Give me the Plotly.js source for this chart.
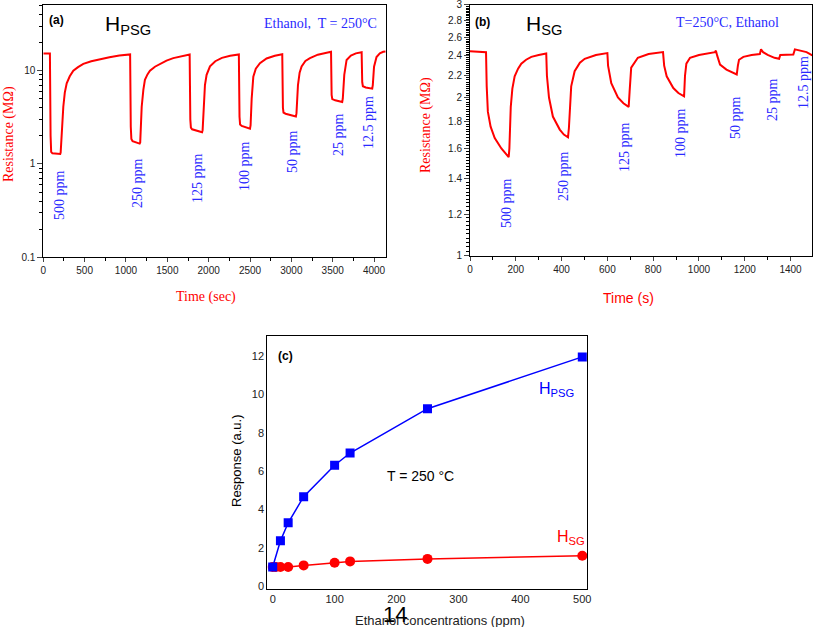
<!DOCTYPE html>
<html>
<head>
<meta charset="utf-8">
<script src="https://cdn.plot.ly/plotly-3.0.1.min.js"></script>
<style>html,body{margin:0;padding:0;background:#fff;}#chart{width:813px;height:627px;}</style>
</head>
<body>
<div id="chart"></div>
<script>
// ---------- Panel (a): H_PSG resistance vs time ----------
const timeA = [0,80,88,95,110,150,205,210,225,242,260,283,320,363,420,484,580,686,800,920,1048,
  1050,1058,1065,1080,1120,1165,1172,1190,1210,1229,1260,1290,1350,1411,1490,1572,1670,1766,
  1770,1778,1785,1800,1860,1920,1927,1940,1955,1975,2016,2080,2160,2260,2360,
  2365,2373,2380,2400,2450,2500,2507,2520,2540,2570,2620,2700,2800,2885,
  2890,2898,2905,2930,3000,3055,3062,3080,3100,3124,3170,3225,3320,3400,3475,
  3480,3487,3495,3530,3580,3615,3622,3640,3668,3720,3780,3845,
  3850,3857,3865,3900,3950,3978,3985,4000,4030,4070,4111,4141];
const resA = [15.2,15.2,2.0,1.35,1.30,1.29,1.28,1.32,2.5,4.1,5.8,7.3,8.7,9.95,10.9,11.8,12.6,13.3,13.9,14.5,14.9,
  14.9,2.5,1.85,1.75,1.70,1.65,1.70,4.1,6.2,7.95,9.1,9.95,11.0,11.8,12.8,13.6,14.3,14.9,
  14.9,3.0,2.45,2.35,2.25,2.18,2.30,4.5,7.0,9.0,11.1,12.6,13.7,14.4,14.9,
  14.9,3.2,2.65,2.55,2.45,2.39,2.6,5.0,8.6,10.5,12.0,13.5,14.4,14.9,
  15.0,4.0,3.55,3.45,3.32,3.23,3.5,7.0,9.5,11.1,12.7,13.6,14.8,15.4,15.9,
  15.9,5.5,4.95,4.8,4.7,4.6,5.0,9.0,13.0,14.5,15.3,15.7,
  15.7,7.5,6.8,6.6,6.45,6.4,7.0,11.0,14.0,15.3,15.9,16.0];
const ppmLabelsA = ["500 ppm","250 ppm","125 ppm","100 ppm","50 ppm","25 ppm","12.5 ppm"];

// ---------- Panel (b): H_SG resistance vs time ----------
const timeB = [0,40,70,73,78,90,108,137,155,169,172,178,185,195,210,224,245,268,300,333,
  336,345,362,392,410,428,432,437,442,457,480,501,550,600,
  603,617,646,670,693,697,704,733,780,843,
  848,859,888,910,935,939,945,961,1000,1070,1074,
  1080,1092,1120,1145,1165,1170,1175,1194,1230,1266,1271,1280,1300,1330,1350,1355,1380,1412,1419,1440,1470,1495];
const resB = [2.45,2.445,2.44,2.1,1.88,1.76,1.675,1.60,1.565,1.54,1.6,1.92,2.08,2.195,2.27,2.32,2.36,2.39,2.41,2.425,
  2.2,2.0,1.84,1.738,1.70,1.68,1.75,2.0,2.10,2.244,2.33,2.37,2.41,2.43,
  2.3,2.13,2.0,1.95,1.92,2.05,2.28,2.38,2.42,2.44,
  2.3,2.195,2.085,2.04,2.01,2.2,2.32,2.38,2.41,2.44,2.456,
  2.40,2.31,2.26,2.235,2.212,2.3,2.36,2.39,2.41,2.42,2.47,2.44,2.41,2.38,2.37,2.41,2.415,2.415,2.47,2.455,2.44,2.405];
const ppmLabelsB = ["500 ppm","250 ppm","125 ppm","100 ppm","50 ppm","25 ppm","12.5 ppm"];

// ---------- Panel (c): response vs concentration ----------
const concPSG = [0,12.5,25,50,100,125,250,500];
const respPSG = [1.0,2.36,3.30,4.66,6.30,6.94,9.25,11.95];
const concSG = [0,5,12.5,25,50,100,125,250,500];
const respSG = [1.0,1.0,1.0,1.0,1.08,1.22,1.29,1.42,1.58];

// tick labels
const tickA_x = [0,500,1000,1500,2000,2500,3000,3500,4000];
const tickA_y = [0.1,1,10];
const tickB_x = [0,200,400,600,800,1000,1200,1400];
const tickB_y = [1,1.2,1.4,1.6,1.8,2,2.2,2.4,2.6,2.8,3];
const tickB_ytext = ["1","1.2","1.4","1.6","1.8","2","2.2","2.4","2.6","2.8","3"];
const tickC_x = [0,100,200,300,400,500];
const tickC_y = [0,2,4,6,8,10,12];

// ---------- helpers ----------
const W = 813, H = 627;
const fx = p => p / W;
const fy = p => 1 - p / H;

const minorA_y = [];
[0.1,1,10].forEach(d => { for (let k = 2; k <= 9; k++) { const v = d*k; if (v <= 50) minorA_y.push(v); } });
const minorB_y = [];
for (let i = 1; i < 100; i++) { const v = +(1 + i*0.02).toFixed(2); if (Math.abs(v*5 - Math.round(v*5)) > 1e-6) minorB_y.push(v); }

const red = '#ff0000', blue = '#0000ff', lblBlue = '#2a2aff';
const tickFont = {family: 'Liberation Sans, Arial, sans-serif', size: 10, color: '#222'};

const traces = [
  {x: timeA, y: resA, type: 'scatter', mode: 'lines', line: {color: red, width: 2}, xaxis: 'x', yaxis: 'y', hoverinfo: 'skip', name: 'H_PSG'},
  {x: timeB, y: resB, type: 'scatter', mode: 'lines', line: {color: red, width: 2}, xaxis: 'x2', yaxis: 'y2', hoverinfo: 'skip', name: 'H_SG'},
  {x: concSG, y: respSG, type: 'scatter', mode: 'lines+markers', line: {color: red, width: 1.5}, marker: {symbol: 'circle', size: 10, color: red}, xaxis: 'x3', yaxis: 'y3', name: 'HSG'},
  {x: concPSG, y: respPSG, type: 'scatter', mode: 'lines+markers', line: {color: blue, width: 1.5}, marker: {symbol: 'square', size: 9, color: blue}, xaxis: 'x3', yaxis: 'y3', name: 'HPSG'}
];

const axBase = {showgrid: false, zeroline: false, showline: true, linecolor: '#000', linewidth: 1, mirror: true,
  tickfont: tickFont, fixedrange: true, ticklabeloverflow: 'allow'};

const layout = {
  width: W, height: H,
  margin: {l: 0, r: 0, t: 0, b: 0},
  paper_bgcolor: '#fff', plot_bgcolor: '#fff',
  showlegend: false,
  xaxis: Object.assign({}, axBase, {domain: [fx(43.3), fx(385.7)], range: [0, 4141], anchor: 'y',
    tickmode: 'array', tickvals: tickA_x, ticks: 'outside', ticklen: 4,
    minor: {ticks: 'outside', ticklen: 3, tickvals: [250,750,1250,1750,2250,2750,3250,3750], tickcolor: '#000'}}),
  yaxis: Object.assign({}, axBase, {domain: [fy(257.3), fy(4.7)], type: 'log', range: [-1.0005, 1.706], anchor: 'x',
    tickmode: 'array', tickvals: tickA_y, ticktext: ['0.1','1','10'], ticks: 'outside', ticklen: 5,
    minor: {ticks: 'outside', ticklen: 3, tickvals: minorA_y, tickcolor: '#000'}}),
  xaxis2: Object.assign({}, axBase, {domain: [fx(470), fx(812.3)], range: [0, 1495], anchor: 'y2',
    tickmode: 'array', tickvals: tickB_x, ticks: 'outside', ticklen: 4,
    minor: {ticks: 'outside', ticklen: 3, tickvals: [100,300,500,700,900,1100,1300], tickcolor: '#000'}}),
  yaxis2: Object.assign({}, axBase, {domain: [fy(256), fy(4.7)], type: 'log', range: [-0.0005, Math.log10(3) + 0.0005], anchor: 'x2',
    tickmode: 'array', tickvals: tickB_y, ticktext: tickB_ytext, ticks: 'outside', ticklen: 5,
    minor: {ticks: 'outside', ticklen: 3, tickvals: minorB_y, tickcolor: '#000'}}),
  xaxis3: Object.assign({}, axBase, {domain: [fx(267.3), fx(587)], range: [-8.7, 507.6], anchor: 'y3',
    tickmode: 'array', tickvals: tickC_x, ticks: '', tickfont: {family: 'Liberation Sans, Arial, sans-serif', size: 11, color: '#222'}}),
  yaxis3: Object.assign({}, axBase, {domain: [fy(589), fy(336)], range: [-0.15, 13.04], anchor: 'x3',
    tickmode: 'array', tickvals: tickC_y, ticks: '', tickfont: {family: 'Liberation Sans, Arial, sans-serif', size: 11, color: '#222'}}),
  annotations: []
};

const A = layout.annotations;
function note(text, x, y, opts) {
  A.push(Object.assign({text: text, x: fx(x), y: fy(y), xref: 'paper', yref: 'paper', showarrow: false,
    xanchor: 'center', yanchor: 'middle'}, opts || {}));
}
const serif = 'Liberation Serif, Times New Roman, serif';
const sans = 'Liberation Sans, Arial, sans-serif';

// panel (a) texts
note('<b>(a)</b>', 56, 20, {font: {family: sans, size: 12, color: '#000'}});
note('H<sub>PSG</sub>', 103, 25, {xanchor: 'left', font: {family: sans, size: 21, color: '#000'}});
note('Ethanol,  T = 250°C', 320, 23, {font: {family: serif, size: 14, color: lblBlue}});
const posA = [[60,195],[137,183],[197,178],[245,166],[292,152],[338,135],[368,123]];
ppmLabelsA.forEach((t, i) => note(t, posA[i][0], posA[i][1], {textangle: -90, font: {family: serif, size: 14, color: lblBlue}}));
note('Resistance (MΩ)', 9, 134, {textangle: -90, font: {family: serif, size: 14, color: red}});
note('Time (sec)', 206, 297, {font: {family: serif, size: 14, color: red}});

// panel (b) texts
note('<b>(b)</b>', 483, 22, {font: {family: sans, size: 12, color: '#000'}});
note('H<sub>SG</sub>', 524, 25, {xanchor: 'left', font: {family: sans, size: 21, color: '#000'}});
note('T=250°C, Ethanol', 727, 22, {font: {family: serif, size: 14, color: lblBlue}});
const posB = [[506,203],[563,176],[624,147],[680,133],[735,118],[773,100],[804,83]];
ppmLabelsB.forEach((t, i) => note(t, posB[i][0], posB[i][1], {textangle: -90, font: {family: serif, size: 14, color: lblBlue}}));
note('Resistance (MΩ)', 426, 125, {textangle: -90, font: {family: serif, size: 14, color: red}});
note('Time (s)', 628, 298, {font: {family: sans, size: 14, color: red}});

// panel (c) texts
note('<b>(c)</b>', 285, 356, {font: {family: sans, size: 12, color: '#000'}});
note('T = 250 °C', 420, 476, {font: {family: sans, size: 14, color: '#000'}});
note('H<sub>PSG</sub>', 537, 389, {xanchor: 'left', font: {family: sans, size: 16, color: blue}});
note('H<sub>SG</sub>', 555, 537, {xanchor: 'left', font: {family: sans, size: 16, color: red}});
note('Response (a.u.)', 236, 461, {textangle: -90, font: {family: sans, size: 13, color: '#000'}});
note('Ethanol concentrations (ppm)', 440, 620, {font: {family: sans, size: 13, color: '#222'}});
note('14', 395, 614, {font: {family: sans, size: 22, color: '#000'}});

Plotly.newPlot('chart', traces, layout, {staticPlot: true, displayModeBar: false});
</script>
</body>
</html>
